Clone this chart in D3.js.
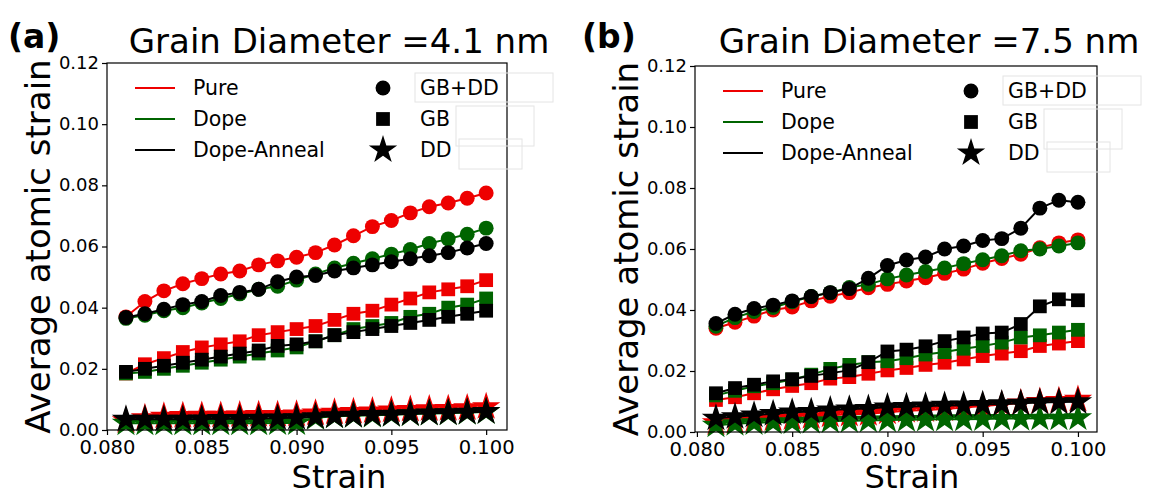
<!DOCTYPE html>
<html><head><meta charset="utf-8">
<script src="https://cdn.jsdelivr.net/npm/d3@7"></script>
<style>
body{margin:0;background:#fff;}
text{font-family:"DejaVu Sans",sans-serif;}
</style></head>
<body><svg id="c" width="1161" height="496"></svg>
<script>
const strain = [0.081,0.082,0.083,0.084,0.085,0.086,0.087,0.088,0.089,0.090,0.091,0.092,0.093,0.094,0.095,0.096,0.097,0.098,0.099,0.100];
const xTicks = [0.080,0.085,0.090,0.095,0.100];
const yTicks = [0.00,0.02,0.04,0.06,0.08,0.10,0.12];
const conditions = ["Pure","Dope","Dope-Anneal"];
const condColors = ["#ee0000","#006400","#000000"];
const regions = ["GB+DD","GB","DD"];

// Panel (a): grain diameter 4.1 nm
const a_pure_gbdd = [0.037,0.042,0.0455,0.0478,0.0495,0.051,0.052,0.054,0.0553,0.0565,0.058,0.0605,0.0635,0.0665,0.0685,0.071,0.073,0.0742,0.0758,0.0775];
const a_dope_gbdd = [0.0365,0.0375,0.039,0.040,0.0415,0.043,0.0445,0.046,0.047,0.049,0.051,0.053,0.0545,0.056,0.0575,0.059,0.061,0.0625,0.064,0.066];
const a_anneal_gbdd = [0.0368,0.038,0.0395,0.041,0.042,0.044,0.045,0.046,0.0485,0.050,0.0505,0.052,0.053,0.054,0.055,0.056,0.057,0.058,0.0595,0.061];
const a_pure_gb = [0.0185,0.0215,0.0235,0.0255,0.027,0.028,0.029,0.031,0.032,0.033,0.034,0.036,0.038,0.039,0.041,0.043,0.045,0.046,0.047,0.049];
const a_dope_gb = [0.0185,0.019,0.020,0.021,0.022,0.023,0.024,0.025,0.026,0.027,0.029,0.031,0.033,0.034,0.035,0.037,0.038,0.040,0.041,0.043];
const a_anneal_gb = [0.019,0.020,0.021,0.022,0.023,0.024,0.025,0.026,0.0275,0.028,0.029,0.031,0.032,0.033,0.034,0.035,0.036,0.037,0.038,0.039];
const a_pure_dd = [0.003,0.004,0.0045,0.0047,0.0048,0.0048,0.0049,0.005,0.005,0.0052,0.0055,0.0058,0.006,0.0062,0.0065,0.0067,0.0069,0.007,0.0072,0.0076];
const a_dope_dd = [0.0022,0.0022,0.0022,0.0022,0.0022,0.0022,0.0022,0.0022,0.0023,0.0023,0.004,0.0045,0.0047,0.0048,0.005,0.0052,0.0054,0.0055,0.0057,0.0059];
const a_anneal_dd = [0.0035,0.0035,0.0035,0.0035,0.0036,0.0037,0.0037,0.0038,0.0039,0.004,0.0043,0.0046,0.0048,0.005,0.0051,0.0053,0.0055,0.0056,0.0058,0.006];

// Panel (b): grain diameter 7.5 nm
const b_pure_gbdd = [0.034,0.036,0.038,0.040,0.041,0.043,0.0445,0.0457,0.0473,0.0484,0.0495,0.0506,0.052,0.0534,0.0553,0.0569,0.0583,0.0604,0.062,0.063];
const b_dope_gbdd = [0.0347,0.0375,0.0395,0.0408,0.0427,0.0444,0.0457,0.0474,0.0484,0.0502,0.0515,0.0526,0.0538,0.0552,0.0565,0.0578,0.0594,0.060,0.061,0.062];
const b_anneal_gbdd = [0.0356,0.0386,0.0405,0.0416,0.043,0.0444,0.0457,0.047,0.0504,0.0546,0.0564,0.0574,0.060,0.061,0.0628,0.0634,0.0668,0.0734,0.076,0.0753];
const b_pure_gb = [0.0105,0.0114,0.0127,0.014,0.0151,0.016,0.0175,0.018,0.0191,0.0202,0.021,0.022,0.0227,0.0238,0.0249,0.0257,0.0265,0.0282,0.029,0.0298];
const b_dope_gb = [0.012,0.0135,0.015,0.016,0.0172,0.0188,0.0207,0.022,0.0229,0.0232,0.0242,0.0254,0.0262,0.0273,0.0282,0.0293,0.031,0.0317,0.0326,0.0335];
const b_anneal_gb = [0.0127,0.0144,0.0155,0.0166,0.0173,0.0184,0.0193,0.0202,0.0229,0.0264,0.027,0.0281,0.0298,0.031,0.0323,0.0326,0.0354,0.0412,0.0435,0.0432];
const b_pure_dd = [0.003,0.0035,0.004,0.0043,0.0046,0.005,0.0055,0.0058,0.006,0.0065,0.007,0.0072,0.0075,0.008,0.0085,0.009,0.0095,0.010,0.0103,0.0107];
const b_dope_dd = [0.0022,0.0027,0.003,0.0032,0.0033,0.0035,0.0036,0.0037,0.0038,0.0039,0.004,0.0041,0.0042,0.0042,0.0043,0.0044,0.0044,0.0045,0.0045,0.0046];
const b_anneal_dd = [0.0045,0.005,0.0055,0.006,0.0065,0.0067,0.0072,0.0075,0.0077,0.0082,0.0083,0.0085,0.0087,0.0088,0.009,0.0092,0.0094,0.0097,0.0098,0.0099];

const panels = [
  {label:"(a)", title:"Grain Diameter =4.1 nm", left:107, right:507, top:63, bottom:430, xDomain:[0.080,0.1011],
   labelX:8, titleX:339, ylabX:38, xlabX:339,
   series:[[a_pure_gbdd,a_pure_gb,a_pure_dd],[a_dope_gbdd,a_dope_gb,a_dope_dd],[a_anneal_gbdd,a_anneal_gb,a_anneal_dd]]},
  {label:"(b)", title:"Grain Diameter =7.5 nm", left:695, right:1097, top:66, bottom:432, xDomain:[0.0799,0.1010],
   labelX:582, titleX:929, ylabX:626, xlabX:912,
   series:[[b_pure_gbdd,b_pure_gb,b_pure_dd],[b_dope_gbdd,b_dope_gb,b_dope_dd],[b_anneal_gbdd,b_anneal_gb,b_anneal_dd]]}
];

const svg = d3.select("#c");
const symTypes = [d3.symbolCircle, d3.symbolSquare, d3.symbolStar];
const symSizes = [175, 190, 250];

panels.forEach(p => {
  const g = svg.append("g");
  const x = d3.scaleLinear().domain(p.xDomain).range([p.left, p.right]);
  const y = d3.scaleLinear().domain([0,0.12]).range([p.bottom, p.top]);

  // data
  const line = d3.line().x((d,i)=>x(strain[i])).y(d=>y(d));
  p.series.forEach((cond, ci) => {
    cond.forEach((vals, ri) => {
      g.append("path").attr("d", line(vals)).attr("fill","none")
        .attr("stroke", condColors[ci]).attr("stroke-width", 2);
      g.selectAll(null).data(vals).enter().append("path")
        .attr("transform",(d,i)=>`translate(${x(strain[i])},${y(d)})`)
        .attr("d", d3.symbol().type(symTypes[ri]).size(symSizes[ri])())
        .attr("fill", condColors[ci]);
    });
  });

  // axes
  const xa = g.append("g").attr("transform",`translate(0,${p.bottom})`)
    .call(d3.axisBottom(x).tickValues(xTicks).tickFormat(d3.format(".3f")).tickSizeOuter(0).tickSize(5));
  const ya = g.append("g").attr("transform",`translate(${p.left},0)`)
    .call(d3.axisLeft(y).tickValues(yTicks).tickFormat(d3.format(".2f")).tickSizeOuter(0).tickSize(5));
  [xa,ya].forEach(a=>{
    a.select(".domain").remove();
    a.selectAll("text").style("font-family","DejaVu Sans").attr("fill","#000");
    a.selectAll("line").attr("stroke","#000").attr("stroke-width",1.2);
  });
  xa.selectAll("text").style("font-size","19.5px").attr("y",6).attr("dy","0.9em");
  ya.selectAll("text").style("font-size","18px").attr("dy","0.3em");
  g.append("rect").attr("x",p.left).attr("y",p.top).attr("width",p.right-p.left).attr("height",p.bottom-p.top)
    .attr("fill","none").attr("stroke","#000").attr("stroke-width",1.2);

  // titles
  g.append("text").attr("x",p.labelX).attr("y",48).text(p.label)
    .style("font-size","33px").style("font-weight","bold");
  g.append("text").attr("x",p.titleX).attr("y",53).attr("text-anchor","middle").text(p.title)
    .style("font-size","34px");
  g.append("text").attr("transform",`translate(${p.ylabX},${(p.top+p.bottom)/2}) rotate(-90)`)
    .attr("text-anchor","middle").attr("dy","0.35em").text("Average atomic strain").style("font-size","34px");
  g.append("text").attr("x",p.xlabX).attr("y",488).attr("text-anchor","middle")
    .text("Strain").style("font-size","32px");

  // legend
  const lx = p.left + 28, mx = p.left + 276, tx = mx + 37;
  const rowsY = [p.top+25, p.top+56, p.top+87];
  // faint boxes
  g.append("rect").attr("x",tx-5).attr("y",rowsY[0]-15).attr("width",138).attr("height",29).attr("fill","none").attr("stroke","#e4e4e4");
  g.append("rect").attr("x",tx+36).attr("y",rowsY[1]-13).attr("width",78).attr("height",40).attr("fill","none").attr("stroke","#e4e4e4");
  g.append("rect").attr("x",tx+39).attr("y",rowsY[2]-11).attr("width",63).attr("height",30).attr("fill","none").attr("stroke","#e4e4e4");
  conditions.forEach((c,i)=>{
    g.append("line").attr("x1",lx).attr("x2",lx+40).attr("y1",rowsY[i]).attr("y2",rowsY[i])
      .attr("stroke",condColors[i]).attr("stroke-width",2);
    g.append("text").attr("x",lx+58).attr("y",rowsY[i]).attr("dy","0.35em").text(c).style("font-size","20.5px");
  });
  regions.forEach((r,i)=>{
    g.append("path").attr("transform",`translate(${mx},${rowsY[i]})`)
      .attr("d", d3.symbol().type(symTypes[i]).size(symSizes[i])()).attr("fill","#000");
    g.append("text").attr("x",tx).attr("y",rowsY[i]).attr("dy","0.35em").text(r).style("font-size","20.5px");
  });
});
</script></body></html>
